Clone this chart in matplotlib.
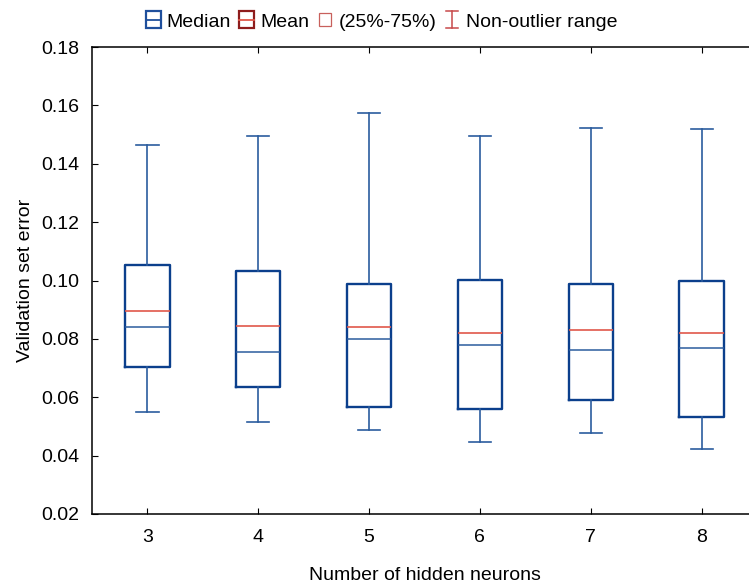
import matplotlib
matplotlib.use("Agg")
import matplotlib.pyplot as plt
from matplotlib.legend_handler import HandlerBase
from matplotlib.patches import Rectangle
from matplotlib.lines import Line2D

plt.rcParams['font.family'] = ['Liberation Sans', 'DejaVu Sans']

# values
neurons = [3, 4, 5, 6, 7, 8]
whis_hi = [0.1464, 0.1495, 0.1573, 0.1495, 0.1522, 0.1518]
q3 = [0.1053, 0.1034, 0.0989, 0.1002, 0.0988, 0.0998]
mean = [0.0896, 0.0845, 0.0841, 0.0821, 0.0830, 0.0821]
median = [0.0842, 0.0755, 0.0801, 0.0780, 0.0762, 0.0769]
q1 = [0.0703, 0.0634, 0.0567, 0.0559, 0.0591, 0.0534]
whis_lo = [0.0551, 0.0514, 0.0488, 0.0448, 0.0478, 0.0424]

box_blue = '#0b3f8c'
line_blue = '#2b5c9e'
mean_red = '#e0584a'

stats = []
for i in range(len(neurons)):
    stats.append({'med': median[i], 'q1': q1[i], 'q3': q3[i],
                  'whislo': whis_lo[i], 'whishi': whis_hi[i], 'mean': mean[i]})

fig = plt.figure(figsize=(7.49, 5.87), dpi=100)
ax = fig.add_axes([92 / 749, 73 / 587, 665 / 749, 467 / 587])

ax.bxp(stats, positions=neurons, widths=0.4, capwidths=0.2,
       showmeans=True, meanline=True, showfliers=False,
       boxprops=dict(color=box_blue, linewidth=1.7),
       whiskerprops=dict(color=line_blue, linewidth=1.2),
       capprops=dict(color=line_blue, linewidth=1.2),
       medianprops=dict(color=line_blue, linewidth=1.1),
       meanprops=dict(color=mean_red, linewidth=1.2, linestyle='-'))

ax.set_xlim(2.5, 8.5)
ax.set_ylim(0.02, 0.18)
ax.set_xticks(neurons)
ax.set_xticklabels([str(n) for n in neurons])
ax.set_yticks([0.02, 0.04, 0.06, 0.08, 0.10, 0.12, 0.14, 0.16, 0.18])
ax.set_yticklabels(['%.2f' % v for v in ax.get_yticks()])
ax.tick_params(direction='in', top=True, right=False, labelsize=14, length=4)
ax.tick_params(axis='x', pad=11)
ax.tick_params(axis='y', pad=9)
for s in ax.spines.values():
    s.set_linewidth(1.1)
ax.set_xlabel('Number of hidden neurons', fontsize=14, labelpad=15)
ax.set_ylabel('Validation set error', fontsize=14, labelpad=5)


class BoxGlyph(HandlerBase):
    def __init__(self, edge, mid, size=12.0, lw=1.6):
        super().__init__()
        self.edge, self.mid, self.size, self.lw = edge, mid, size, lw

    def create_artists(self, legend, orig_handle, xdescent, ydescent,
                       width, height, fontsize, trans):
        w = self.size * 0.9
        h = self.size
        x0 = (width - w) / 2 - xdescent
        y0 = height / 2 - ydescent - h / 2
        arts = [Rectangle((x0, y0), w, h, facecolor='white',
                          edgecolor=self.edge, linewidth=self.lw, transform=trans)]
        if self.mid is not None:
            arts.append(Line2D([x0, x0 + w], [y0 + h / 2, y0 + h / 2],
                               color=self.mid, linewidth=1.3, transform=trans))
        return arts


class RangeGlyph(HandlerBase):
    def create_artists(self, legend, orig_handle, xdescent, ydescent,
                       width, height, fontsize, trans):
        xc = width / 2 - xdescent
        y0 = height / 2 - ydescent - 6
        y1 = y0 + 12
        c = '#c8494a'
        return [Line2D([xc, xc], [y0, y1], color=c, lw=1.1, transform=trans),
                Line2D([xc - 4, xc + 4], [y0, y0], color=c, lw=1.1, transform=trans),
                Line2D([xc - 4, xc + 4], [y1, y1], color=c, lw=1.1, transform=trans)]


h_med, h_mean, h_box, h_rng = [Line2D([], []) for _ in range(4)]
fig.legend([h_med, h_mean, h_box, h_rng],
           ['Median', 'Mean', '(25%-75%)', 'Non-outlier range'],
           handler_map={h_med: BoxGlyph('#1f4f9c', '#1f4f9c'),
                        h_mean: BoxGlyph('#8e1c1c', '#e0584a'),
                        h_box: BoxGlyph('#c8605c', None, 9.5, 0.9),
                        h_rng: RangeGlyph()},
           loc='center', bbox_to_anchor=(0.509, 0.963), ncol=4, frameon=False,
           fontsize=14, handlelength=0.8, handletextpad=0.3, columnspacing=0.4)

fig.savefig('out.png', dpi=100)
